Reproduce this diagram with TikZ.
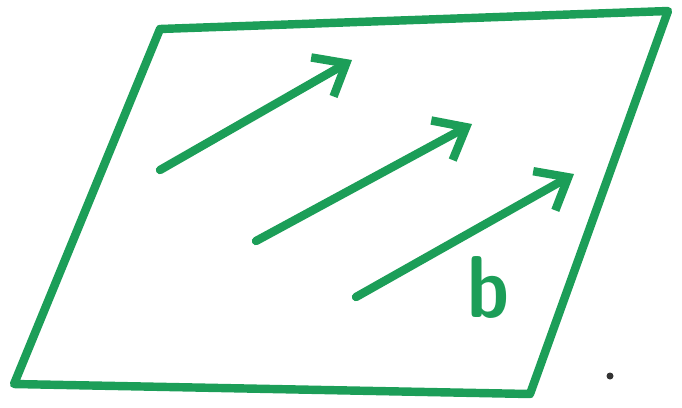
\documentclass[tikz,border=0pt]{standalone}
\usetikzlibrary{arrows.meta}
\definecolor{marker}{RGB}{28,158,88}
\begin{document}
\begin{tikzpicture}[x=0.02cm,y=-0.02cm,line cap=round,line join=round,
  pen/.style={draw=marker,line width=4.8pt},
  vec/.style={pen,-{Straight Barb[length=5.5mm,width=9mm,line width=4.8pt]}}]
  \useasboundingbox (0,0) rectangle (682,407);
  % plane
  \coordinate (TL) at (160,29); \coordinate (TR) at (668,11);
  \coordinate (BR) at (530,394); \coordinate (BL) at (14,384);
  \draw[pen] (TL)--(TR)--(BR)--(BL)--cycle;
  % vectors
  \coordinate (a0) at (160,170); \coordinate (a1) at (352,60);
  \coordinate (b0) at (256,241); \coordinate (b1) at (472,124);
  \coordinate (c0) at (356,297); \coordinate (c1) at (574,174);
  \draw[vec] (a0)--(a1);
  \draw[vec] (b0)--(b1);
  \draw[vec] (c0)--(c1);
  \node[text=marker,font=\fontsize{50}{50}\sffamily\bfseries,xscale=0.85] (lb) at (488,287) {b};
  \fill[black!80] (610,376) circle (3.5);
\end{tikzpicture}
\end{document}
